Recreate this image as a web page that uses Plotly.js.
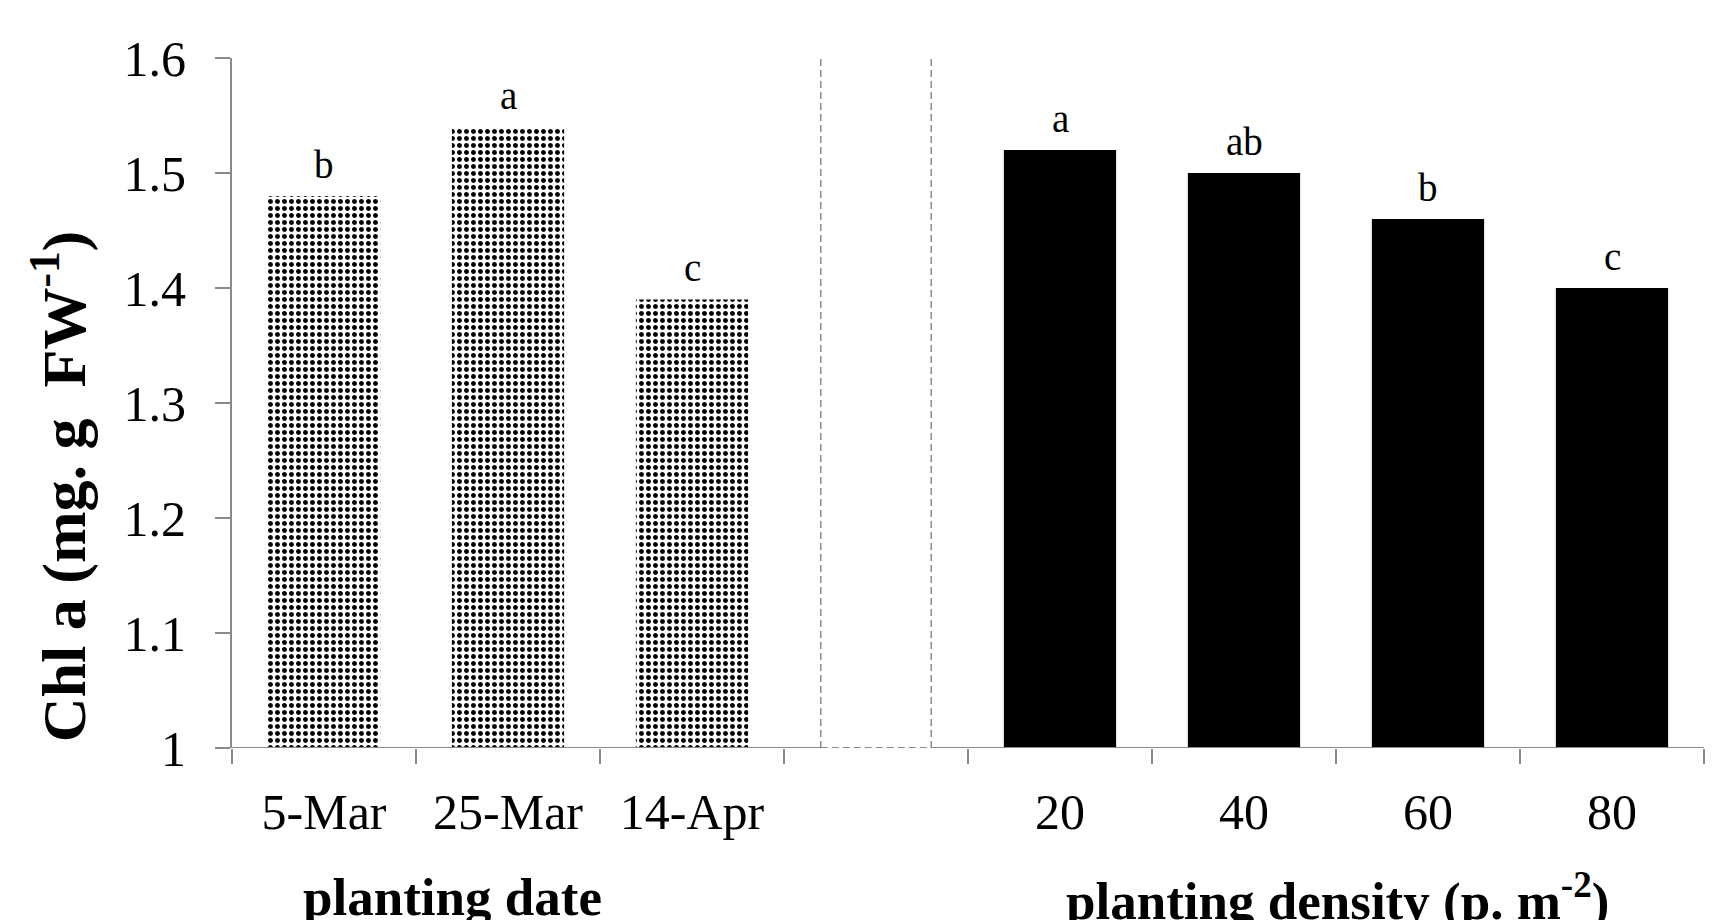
<!DOCTYPE html>
<html>
<head>
<meta charset="utf-8">
<script src="https://cdn.plot.ly/plotly-3.0.1.min.js"></script>
<style>html,body{margin:0;padding:0;background:#fff;}#chart{width:1733px;height:920px;}</style>
</head>
<body>
<div id="chart"></div>
<script>
// Data
var dateCategories = ["5-Mar", "25-Mar", "14-Apr"];
var dateValues = [1.48, 1.54, 1.39];
var dateLetters = ["b", "a", "c"];

var densityCategories = ["20", "40", "60", "80"];
var densityValues = [1.52, 1.50, 1.46, 1.40];
var densityLetters = ["a", "ab", "b", "c"];

var gapCategory = " ";
var yTickVals = [1, 1.1, 1.2, 1.3, 1.4, 1.5, 1.6];
var yTickText = ["1", "1.1", "1.2", "1.3", "1.4", "1.5", "1.6"];

var allCategories = dateCategories.concat([gapCategory], densityCategories);

var serif = "Liberation Serif, Times New Roman, serif";
var axisGray = "#8a8a8a";

var traces = [
  {
    type: "bar",
    x: dateCategories,
    y: dateValues,
    width: 0.61,
    marker: {
      color: "#ffffff",
      line: {width: 0},
      pattern: {shape: ".", fgcolor: "#000000", bgcolor: "#ffffff", size: 7, solidity: 0.4}
    },
    hoverinfo: "x+y"
  },
  {
    type: "bar",
    x: densityCategories,
    y: densityValues,
    width: 0.61,
    marker: {color: "#000000", line: {width: 0}},
    hoverinfo: "x+y"
  }
];

var annotations = [];
function addLetters(cats, vals, letters) {
  for (var i = 0; i < cats.length; i++) {
    annotations.push({
      x: allCategories.indexOf(cats[i]), y: vals[i], xref: "x", yref: "y",
      text: letters[i], showarrow: false,
      xanchor: "center", yanchor: "middle", yshift: 32,
      font: {family: serif, size: 39, color: "#000"}
    });
  }
}
addLetters(dateCategories, dateValues, dateLetters);
addLetters(densityCategories, densityValues, densityLetters);

annotations.push({
  xref: "paper", yref: "paper", x: -0.1175, y: 0.378,
  text: "<b>Chl a (mg. g\u00a0\u00a0FW<sup>-1</sup>)</b>", textangle: -90, showarrow: false,
  xanchor: "center", yanchor: "middle",
  font: {family: serif, size: 62, color: "#000"}
});
annotations.push({
  xref: "paper", yref: "paper", x: 0.1501, y: -0.216,
  text: "<b>planting date</b>", showarrow: false,
  xanchor: "center", yanchor: "middle",
  font: {family: serif, size: 53, color: "#000"}
});
annotations.push({
  xref: "paper", yref: "paper", x: 0.7507, y: -0.216,
  text: "<b>planting density (p. m<sup>-2</sup>)</b>", showarrow: false,
  xanchor: "center", yanchor: "middle",
  font: {family: serif, size: 53, color: "#000"}
});

var sepLeft = 2.7, sepRight = 3.3;
var shapes = [
  {type: "line", xref: "x", yref: "y", x0: -0.5, x1: sepLeft, y0: 1, y1: 1, line: {color: axisGray, width: 2}},
  {type: "line", xref: "x", yref: "y", x0: sepLeft, x1: sepRight, y0: 1, y1: 1, line: {color: axisGray, width: 2, dash: "7px,4px"}},
  {type: "line", xref: "x", yref: "y", x0: sepRight, x1: 7.5, y0: 1, y1: 1, line: {color: axisGray, width: 2}},
  {type: "line", xref: "x", yref: "y", x0: sepLeft, x1: sepLeft, y0: 1, y1: 1.6, line: {color: axisGray, width: 1.5, dash: "7px,4px"}},
  {type: "line", xref: "x", yref: "y", x0: sepRight, x1: sepRight, y0: 1, y1: 1.6, line: {color: axisGray, width: 1.5, dash: "7px,4px"}}
];

var layout = {
  width: 1733, height: 920,
  margin: {l: 232, r: 29, t: 58, b: 172},
  paper_bgcolor: "#ffffff", plot_bgcolor: "#ffffff",
  showlegend: false,
  barmode: "overlay",
  xaxis: {
    type: "category",
    categoryorder: "array", categoryarray: allCategories,
    range: [-0.5, 7.5],
    showgrid: false, zeroline: false, showline: false,
    ticks: "outside", tickson: "boundaries", ticklen: 15, tickwidth: 2, tickcolor: axisGray,
    ticklabelstandoff: 30,
    tickfont: {family: serif, size: 50, color: "#000"}
  },
  yaxis: {
    range: [1, 1.6],
    tickvals: yTickVals, ticktext: yTickText,
    showgrid: false, zeroline: false,
    showline: true, linecolor: axisGray, linewidth: 2,
    ticks: "outside", ticklen: 15, tickwidth: 2, tickcolor: axisGray,
    ticklabelstandoff: 19,
    tickfont: {family: serif, size: 50, color: "#000"}
  },
  annotations: annotations,
  shapes: shapes
};

Plotly.newPlot("chart", traces, layout, {displayModeBar: false, staticPlot: true});
</script>
</body>
</html>
